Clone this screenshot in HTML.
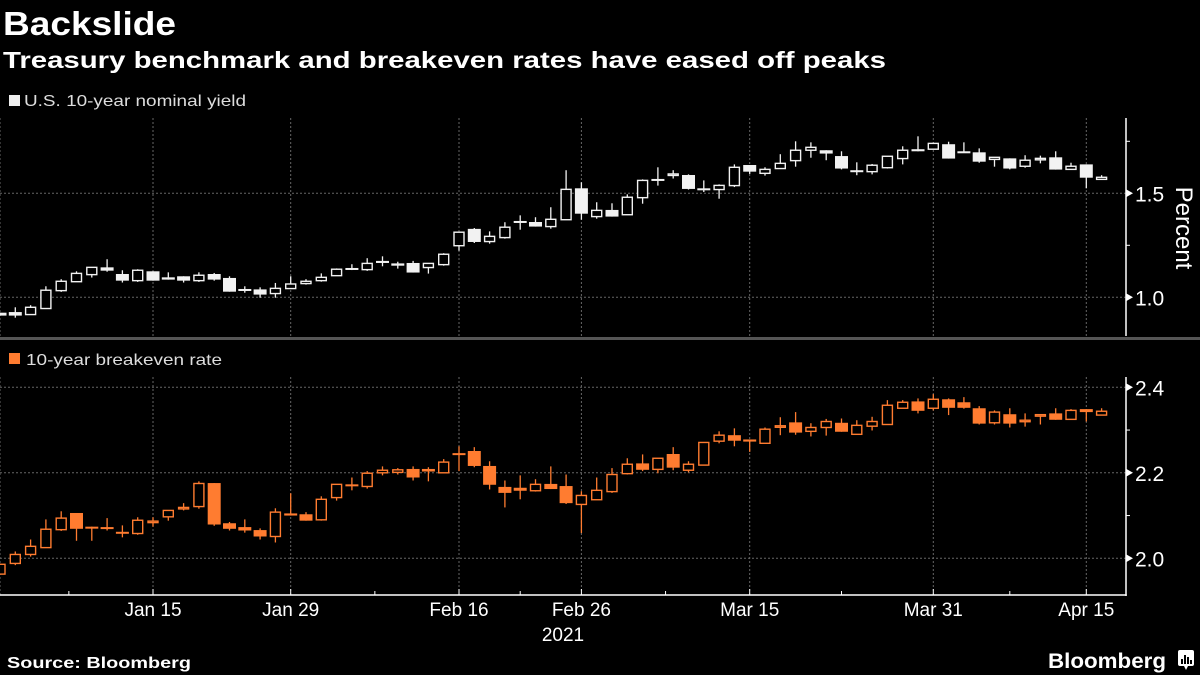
<!DOCTYPE html>
<html><head><meta charset="utf-8">
<style>
html,body{margin:0;padding:0;background:#000;width:1200px;height:675px;overflow:hidden}
svg{display:block}
text{font-family:"Liberation Sans","DejaVu Sans",sans-serif}
</style></head>
<body>
<svg id="chart" width="1200" height="675" xmlns="http://www.w3.org/2000/svg">
<text x="3" y="35" fill="#fff" font-size="33" font-weight="bold" textLength="173" lengthAdjust="spacingAndGlyphs">Backslide</text>
<text x="3" y="68" fill="#fff" font-size="23" font-weight="bold" textLength="883" lengthAdjust="spacingAndGlyphs">Treasury benchmark and breakeven rates have eased off peaks</text>
<rect x="9" y="95" width="11" height="11" fill="#eee"/>
<text x="24" y="106" fill="#ddd" font-size="16" textLength="222" lengthAdjust="spacingAndGlyphs">U.S. 10-year nominal yield</text>
<rect x="0" y="337" width="1200" height="3" fill="#555"/>
<rect x="9" y="353" width="11" height="11" fill="#ff7c30"/>
<text x="26" y="365" fill="#ddd" font-size="16" textLength="196" lengthAdjust="spacingAndGlyphs">10-year breakeven rate</text>
<text x="7" y="668" fill="#fff" font-size="16" font-weight="bold" textLength="184" lengthAdjust="spacingAndGlyphs">Source: Bloomberg</text>
<text x="1048" y="668" fill="#fff" font-size="21" font-weight="bold" textLength="118" lengthAdjust="spacingAndGlyphs">Bloomberg</text>
<g>
<rect x="1178" y="650" width="16" height="16" rx="2" fill="#fff"/>
<path d="M1184 666 L1186 670 L1188 666 Z" fill="#fff"/>
<rect x="1181" y="659" width="2" height="5" fill="#000"/><rect x="1184" y="655" width="2" height="9" fill="#000"/><rect x="1187" y="657" width="2" height="7" fill="#000"/><rect x="1190" y="660" width="2" height="4" fill="#000"/>
</g>
<g id="grid"></g>
<g id="marks"></g>
<g id="axes"></g>
</svg>
<script>
// ---- data (trading-day index 0 = Dec 31 2020) ----
const dateLabels = ["Jan 15","Jan 29","Feb 16","Feb 26","Mar 15","Mar 31","Apr 15"];
const dateIndex = [10,19,30,38,49,61,71];
const minorTickIndex = [4.5,24.5,34,43.5,55,66];
const nomOpen  = [0.926,0.929,0.917,0.946,1.032,1.075,1.109,1.144,1.112,1.080,1.125,1.096,1.101,1.080,1.112,1.093,1.040,1.038,1.018,1.042,1.066,1.080,1.104,1.141,1.133,1.175,1.163,1.165,1.143,1.157,1.248,1.329,1.268,1.287,1.367,1.362,1.340,1.373,1.524,1.388,1.420,1.397,1.479,1.569,1.590,1.588,1.524,1.518,1.537,1.636,1.596,1.619,1.657,1.707,1.707,1.679,1.611,1.604,1.623,1.667,1.712,1.712,1.736,1.702,1.697,1.663,1.668,1.630,1.663,1.673,1.615,1.639,1.567];
const nomHigh  = [0.926,0.952,0.962,1.053,1.087,1.125,1.144,1.183,1.130,1.135,1.125,1.120,1.101,1.120,1.117,1.101,1.053,1.048,1.069,1.101,1.087,1.115,1.139,1.159,1.188,1.197,1.171,1.175,1.163,1.212,1.313,1.333,1.317,1.361,1.394,1.385,1.433,1.611,1.553,1.457,1.452,1.495,1.567,1.625,1.611,1.591,1.562,1.543,1.639,1.636,1.625,1.688,1.750,1.745,1.707,1.702,1.649,1.641,1.678,1.726,1.774,1.744,1.748,1.745,1.716,1.673,1.668,1.683,1.681,1.702,1.647,1.639,1.587];
const nomLow   = [0.912,0.902,0.917,0.946,1.026,1.075,1.095,1.123,1.071,1.074,1.080,1.085,1.071,1.074,1.080,1.027,1.022,0.998,0.998,1.042,1.061,1.075,1.104,1.131,1.127,1.149,1.138,1.119,1.114,1.152,1.224,1.261,1.258,1.282,1.325,1.340,1.330,1.373,1.373,1.378,1.388,1.397,1.450,1.537,1.571,1.518,1.506,1.474,1.530,1.593,1.585,1.619,1.628,1.671,1.659,1.615,1.587,1.591,1.619,1.639,1.702,1.712,1.667,1.696,1.647,1.628,1.615,1.623,1.644,1.614,1.615,1.524,1.567];
const nomClose = [0.912,0.912,0.952,1.034,1.077,1.115,1.144,1.128,1.080,1.130,1.080,1.085,1.080,1.106,1.085,1.027,1.032,1.013,1.043,1.064,1.077,1.096,1.135,1.136,1.163,1.165,1.152,1.119,1.163,1.207,1.313,1.266,1.293,1.337,1.359,1.340,1.375,1.519,1.402,1.418,1.388,1.481,1.562,1.561,1.593,1.521,1.516,1.538,1.625,1.604,1.615,1.644,1.707,1.721,1.691,1.619,1.604,1.635,1.678,1.707,1.702,1.740,1.667,1.696,1.652,1.673,1.619,1.659,1.668,1.614,1.630,1.575,1.577];
const beOpen  = [1.963,1.988,2.009,2.025,2.067,2.106,2.074,2.073,2.062,2.058,2.086,2.097,2.116,2.121,2.176,2.082,2.073,2.066,2.051,2.105,2.103,2.090,2.142,2.173,2.168,2.200,2.201,2.209,2.209,2.200,2.246,2.251,2.216,2.167,2.165,2.158,2.174,2.169,2.126,2.137,2.156,2.198,2.222,2.208,2.244,2.206,2.218,2.274,2.288,2.278,2.269,2.308,2.318,2.297,2.306,2.317,2.290,2.309,2.313,2.351,2.367,2.351,2.372,2.365,2.351,2.317,2.337,2.320,2.335,2.339,2.325,2.349,2.335];
const beHigh  = [1.986,2.016,2.044,2.091,2.110,2.106,2.074,2.094,2.077,2.096,2.096,2.112,2.129,2.180,2.176,2.085,2.091,2.070,2.117,2.152,2.108,2.145,2.173,2.189,2.204,2.215,2.211,2.215,2.213,2.232,2.262,2.260,2.227,2.182,2.194,2.185,2.215,2.196,2.157,2.189,2.211,2.234,2.243,2.234,2.260,2.227,2.271,2.297,2.304,2.278,2.306,2.330,2.342,2.316,2.326,2.327,2.323,2.331,2.370,2.370,2.374,2.384,2.374,2.377,2.356,2.346,2.351,2.339,2.336,2.351,2.349,2.349,2.351];
const beLow   = [1.963,1.984,2.004,2.025,2.064,2.041,2.041,2.065,2.049,2.055,2.074,2.088,2.112,2.116,2.076,2.065,2.060,2.044,2.037,2.100,2.088,2.088,2.135,2.159,2.163,2.194,2.196,2.182,2.180,2.200,2.204,2.213,2.161,2.119,2.138,2.156,2.162,2.127,2.059,2.137,2.153,2.196,2.204,2.199,2.206,2.201,2.218,2.269,2.262,2.249,2.269,2.288,2.289,2.285,2.287,2.296,2.290,2.299,2.313,2.351,2.339,2.346,2.335,2.350,2.313,2.313,2.306,2.308,2.313,2.324,2.325,2.320,2.335];
const beClose = [1.986,2.009,2.028,2.068,2.094,2.069,2.073,2.069,2.058,2.089,2.087,2.112,2.119,2.175,2.079,2.069,2.065,2.051,2.108,2.100,2.088,2.138,2.173,2.170,2.199,2.206,2.207,2.189,2.203,2.225,2.242,2.216,2.172,2.153,2.158,2.173,2.162,2.129,2.147,2.159,2.196,2.220,2.207,2.234,2.212,2.220,2.271,2.288,2.275,2.273,2.302,2.310,2.294,2.306,2.320,2.296,2.311,2.320,2.358,2.365,2.345,2.372,2.352,2.352,2.315,2.342,2.315,2.323,2.336,2.324,2.346,2.342,2.344];
const nomTicks = [1.0,1.5];
const nomMinor = [1.25,1.75];
const beTicks = [2.0,2.2,2.4];
const beMinor = [2.1,2.3];

// ---- scales ----
const STEP = 15.3, AXIS_X = 1126;
const xS = i => i * STEP;
const yNom = v => 297.3 - (v - 1.0) * 208;
const yBe = v => 558.3 - (v - 2.0) * 427.5;
const NS = "http://www.w3.org/2000/svg";
function mk(tag, attrs, parent){
  const e = document.createElementNS(NS, tag);
  for (const k in attrs) e.setAttribute(k, attrs[k]);
  parent.appendChild(e); return e;
}
const grid = document.getElementById('grid');
const marks = document.getElementById('marks');
const axes = document.getElementById('axes');
const panels = [
  {y:yNom, top:118, bot:336, ticks:nomTicks, minor:nomMinor, O:nomOpen,H:nomHigh,L:nomLow,C:nomClose, col:"#f2f2f2", name:"nominal", fmt:v=>v.toFixed(1)},
  {y:yBe, top:377, bot:595, ticks:beTicks, minor:beMinor, O:beOpen,H:beHigh,L:beLow,C:beClose, col:"#ff7c30", name:"breakeven", fmt:v=>v.toFixed(1)}
];
panels.forEach(p => {
  // vertical gridlines
  [0].concat(dateIndex).forEach(i => {
    const l = mk('line',{x1:xS(i),x2:xS(i),y1:p.top,y2:p.bot,stroke:"#666","stroke-width":1,"stroke-dasharray":"2,2"},grid);
    
    
  });
  p.ticks.forEach(v => {
    const l = mk('line',{x1:0,x2:AXIS_X,y1:p.y(v),y2:p.y(v),stroke:"#666","stroke-width":1,"stroke-dasharray":"2,2"},grid);
    
    
    const tr = mk('path',{d:`M${AXIS_X} ${p.y(v)-4} L${AXIS_X+7} ${p.y(v)} L${AXIS_X} ${p.y(v)+4} Z`,fill:"#fff"},axes);
    
    
    const t = mk('text',{x:AXIS_X+9,y:p.y(v)+8,fill:"#fff","font-size":21},axes);
    t.textContent = p.fmt(v);
    
    
  });
  p.minor.forEach(v => {
    const l = mk('line',{x1:AXIS_X,x2:AXIS_X+4,y1:p.y(v),y2:p.y(v),stroke:"#fff","stroke-width":1},axes);
    
    
  });
  const ax = mk('line',{x1:AXIS_X,x2:AXIS_X,y1:p.top,y2:p.bot+(p.name==="breakeven"?1:0),stroke:"#fff","stroke-width":1.5},axes);
  
  
  // candles
  p.O.forEach((o,i) => {
    const c = p.C[i], x = xS(i);
    const up = c >= o;
    const g = mk('g',{},marks);
    
    
    const yT = p.y(Math.max(o,c)), yB = p.y(Math.min(o,c));
    mk('line',{x1:x,x2:x,y1:p.y(p.H[i]),y2:p.y(p.L[i]),stroke:p.col,"stroke-width":1.3},g);
    if (up) {
      mk('rect',{x:x-5,y:yT,width:10,height:Math.max(yB-yT,1.5),fill:"#000",stroke:p.col,"stroke-width":1.4},g);
    } else {
      mk('rect',{x:x-6.5,y:yT,width:13,height:Math.max(yB-yT,2),fill:p.col},g);
    }
  });
});
// x axis
const xa = mk('line',{x1:0,x2:AXIS_X+0.75,y1:595,y2:595,stroke:"#fff","stroke-width":1.5},axes);


dateIndex.forEach((i,k) => {
  const tk = mk('line',{x1:xS(i),x2:xS(i),y1:589,y2:595,stroke:"#fff","stroke-width":1},axes);
  
  
  const t = mk('text',{x:xS(i),y:616,fill:"#fff","font-size":19,"text-anchor":"middle"},axes);
  t.textContent = dateLabels[k];
  
  
});
minorTickIndex.forEach(i => {
  const tk = mk('line',{x1:xS(i),x2:xS(i),y1:591,y2:595,stroke:"#fff","stroke-width":1},axes);
  
  
});
const yr = mk('text',{x:563,y:641,fill:"#fff","font-size":19,"text-anchor":"middle"},axes);
yr.textContent = "2021";


const pt = mk('text',{x:0,y:0,fill:"#fff","font-size":24,"text-anchor":"middle",transform:"translate(1176,228) rotate(90)"},axes);
pt.textContent = "Percent";


</script>
</body></html>
